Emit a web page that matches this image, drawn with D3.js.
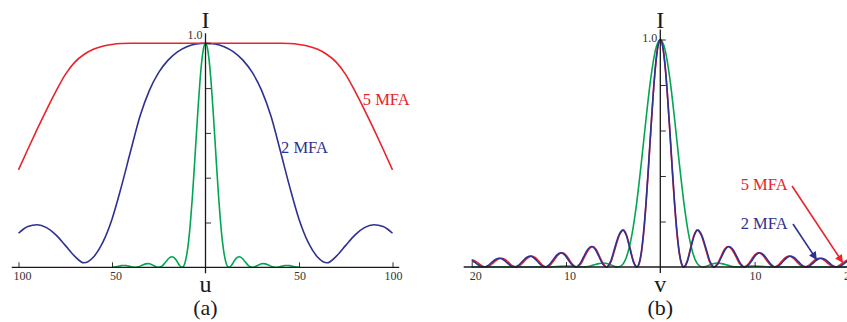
<!DOCTYPE html>
<html>
<head>
<meta charset="utf-8">
<script src="https://cdn.jsdelivr.net/npm/d3@7"></script>
<style>
  body { margin: 0; background: #fff; }
  svg { display: block; font-family: "Liberation Serif", "Times New Roman", serif; }
</style>
</head>
<body>
<svg id="chart" width="847" height="322"></svg>
<script>
// ---- panel (a): axial intensity vs u ----
const uA = [-100,-95,-90,-85,-80,-75,-70,-65,-60,-55,-50,-45,-40,-35,-30,-25,-20,-15,-10,-5,0,
            5,10,15,20,25,30,35,40,45,50,55,60,65,70,75,80,85,90,95,100];
const red5A = [0.435,0.527,0.617,0.703,0.785,0.86,0.915,0.95,0.973,0.987,0.995,0.999,1,1,1,1,1,1,1,1,1,
               1,1,1,1,1,1,1,1,0.999,0.995,0.987,0.973,0.95,0.915,0.86,0.785,0.703,0.617,0.527,0.435];
const blue2A = [0.152,0.182,0.19,0.177,0.145,0.098,0.05,0.02,0.045,0.11,0.215,0.36,0.52,0.675,0.79,0.87,0.925,0.962,0.985,0.997,1,
                0.997,0.985,0.962,0.925,0.87,0.79,0.675,0.52,0.36,0.215,0.11,0.045,0.02,0.05,0.098,0.145,0.177,0.19,0.182,0.152];
const uGreen = [-50,-49,-48,-47,-46,-45,-44,-43,-42,-41,-40,-39,-38,-37,-36,-35,-34,-33,-32,-31,-30,-29,-28,-27,-26,
                -25,-24,-23,-22,-21,-20,-19,-18,-17,-16,-15,-14,-13,-12,-11,-10,-9,-8,-7,-6,-5,-4,-3,-2,-1,0,
                1,2,3,4,5,6,7,8,9,10,11,12,13,14,15,16,17,18,19,20,21,22,23,24,25,
                26,27,28,29,30,31,32,33,34,35,36,37,38,39,40,41,42,43,44,45,46,47,48,49,50];
const greenA = [0,0.0008,0.002,0.0039,0.0058,0.0076,0.0083,0.0083,0.007,0.0052,0.003,0.0011,0.0001,0.0004,0.0021,0.0051,0.0088,0.0125,0.0153,0.0165,0.0156,0.0129,0.0088,0.0044,0.0011,
                0,0.0022,0.0078,0.0165,0.0268,0.0368,0.0443,0.0472,0.0444,0.0358,0.0232,0.01,0.0011,0.0022,0.0193,0.0573,0.1196,0.2067,0.3162,0.4422,0.5764,0.7081,0.8261,0.9194,0.9793,1,
                0.9793,0.9194,0.8261,0.7081,0.5764,0.4422,0.3162,0.2067,0.1196,0.0573,0.0193,0.0022,0.0011,0.01,0.0232,0.0358,0.0444,0.0472,0.0443,0.0368,0.0268,0.0165,0.0078,0.0022,0,
                0.0011,0.0044,0.0088,0.0129,0.0156,0.0165,0.0153,0.0125,0.0088,0.0051,0.0021,0.0004,0.0001,0.0011,0.003,0.0052,0.007,0.0083,0.0083,0.0076,0.0058,0.0039,0.002,0.0008,0];

// ---- panel (b): lateral intensity vs v, [v, I] ----
const blue2B = [[-20,0.0292],[-19.93,0.0277],[-19.53,0.0162],[-19.13,0.0047],[-18.73,0],[-18.31,0.0056],[-17.90,0.0193],[-17.48,0.033],[-17.07,0.0386],
  [-16.67,0.033],[-16.27,0.0193],[-15.87,0.0056],[-15.47,0],[-15.06,0.007],[-14.64,0.0239],[-14.22,0.0407],[-13.81,0.0477],[-13.41,0.0407],[-13.01,0.0239],
  [-12.62,0.007],[-12.22,0],[-11.80,0.0091],[-11.38,0.0312],[-10.96,0.0533],[-10.54,0.0624],[-10.15,0.0533],[-9.76,0.0312],[-9.36,0.0091],[-8.97,0],
  [-8.54,0.0132],[-8.12,0.0451],[-7.70,0.0769],[-7.27,0.0901],[-6.88,0.0769],[-6.50,0.0451],[-6.11,0.0132],[-5.72,0],[-5.28,0.0237],[-4.85,0.0811],
  [-4.41,0.1385],[-3.97,0.1622],[-3.60,0.1385],[-3.23,0.0811],[-2.86,0.0237],[-2.49,0],[-2.25,0.016],[-2,0.0699],[-1.75,0.1636],[-1.5,0.2926],
  [-1.25,0.4462],[-1,0.609],[-0.75,0.7626],[-0.5,0.8886],[-0.25,0.9712],[0,1],[0.25,0.9712],[0.5,0.8886],[0.75,0.7626],[1,0.609],[1.25,0.4462],
  [1.5,0.2926],[1.75,0.1636],[2,0.0699],[2.25,0.016],[2.49,0],[2.86,0.0237],[3.23,0.0811],[3.60,0.1385],[3.97,0.1622],[4.41,0.1385],[4.85,0.0811],
  [5.28,0.0237],[5.72,0],[6.11,0.0132],[6.50,0.0451],[6.88,0.0769],[7.27,0.0901],[7.70,0.0769],[8.12,0.0451],[8.54,0.0132],[8.97,0],[9.36,0.0091],
  [9.76,0.0312],[10.15,0.0533],[10.54,0.0624],[10.96,0.0533],[11.38,0.0312],[11.80,0.0091],[12.22,0],[12.62,0.007],[13.01,0.0239],[13.41,0.0407],
  [13.81,0.0477],[14.22,0.0407],[14.64,0.0239],[15.06,0.007],[15.47,0],[15.87,0.0056],[16.27,0.0193],[16.67,0.033],[17.07,0.0386],[17.48,0.033],
  [17.90,0.0193],[18.31,0.0056],[18.73,0],[19.13,0.0047],[19.53,0.0162],[19.93,0.0277],[20,0.0292]];
const red5B = [[-20,0.0322],[-19.68,0.0277],[-19.29,0.0162],[-18.89,0.0047],[-18.50,0],[-18.09,0.0056],[-17.68,0.0193],[-17.27,0.033],[-16.86,0.0386],
  [-16.47,0.033],[-16.07,0.0193],[-15.68,0.0056],[-15.28,0],[-14.87,0.007],[-14.46,0.0239],[-14.05,0.0407],[-13.64,0.0477],[-13.25,0.0407],[-12.85,0.0239],
  [-12.46,0.007],[-12.07,0],[-11.66,0.0091],[-11.24,0.0312],[-10.83,0.0533],[-10.41,0.0624],[-10.02,0.0533],[-9.64,0.0312],[-9.25,0.0091],[-8.86,0],
  [-8.44,0.0132],[-8.02,0.0451],[-7.60,0.0769],[-7.18,0.0901],[-6.80,0.0769],[-6.42,0.0451],[-6.03,0.0132],[-5.65,0],[-5.22,0.0237],[-4.79,0.0811],
  [-4.35,0.1385],[-3.92,0.1622],[-3.56,0.1385],[-3.19,0.0811],[-2.83,0.0237],[-2.46,0],[-2.25,0.0124],[-2,0.0628],[-1.75,0.1538],[-1.5,0.282],
  [-1.25,0.4364],[-1,0.601],[-0.75,0.7573],[-0.5,0.8859],[-0.25,0.9706],[0,1],[0.25,0.9706],[0.5,0.8859],[0.75,0.7573],[1,0.601],[1.25,0.4364],
  [1.5,0.282],[1.75,0.1538],[2,0.0628],[2.25,0.0124],[2.46,0],[2.83,0.0237],[3.19,0.0811],[3.56,0.1385],[3.92,0.1622],[4.35,0.1385],[4.79,0.0811],
  [5.22,0.0237],[5.65,0],[6.03,0.0132],[6.42,0.0451],[6.80,0.0769],[7.18,0.0901],[7.60,0.0769],[8.02,0.0451],[8.44,0.0132],[8.86,0],[9.25,0.0091],
  [9.64,0.0312],[10.02,0.0533],[10.41,0.0624],[10.83,0.0533],[11.24,0.0312],[11.66,0.0091],[12.07,0],[12.46,0.007],[12.85,0.0239],[13.25,0.0407],
  [13.64,0.0477],[14.05,0.0407],[14.46,0.0239],[14.87,0.007],[15.28,0],[15.68,0.0056],[16.07,0.0193],[16.47,0.033],[16.86,0.0386],[17.27,0.033],
  [17.68,0.0193],[18.09,0.0056],[18.50,0],[18.89,0.0047],[19.29,0.0162],[19.68,0.0277],[20,0.0322]];
const greenB = [[-20,0],[-11.97,0],[-11,0.002],[-9.9,0.0042],[-9,0.0025],[-8.25,0],[-7.5,0.0036],[-7,0.0095],[-6.5,0.0148],[-6.04,0.0175],
  [-5.5,0.0133],[-5,0.0051],[-4.51,0],[-4,0.0111],[-3.5,0.0549],[-3,0.1443],[-2.5,0.2834],[-2,0.462],[-1.5,0.6562],[-1,0.8325],[-0.5,0.9557],[0,1],
  [0.5,0.9557],[1,0.8325],[1.5,0.6562],[2,0.462],[2.5,0.2834],[3,0.1443],[3.5,0.0549],[4,0.0111],[4.51,0],[5,0.0051],[5.5,0.0133],[6.04,0.0175],
  [6.5,0.0148],[7,0.0095],[7.5,0.0036],[8.25,0],[9,0.0025],[9.9,0.0042],[11,0.002],[11.97,0],[20,0]];

// ticks
const uMinor = [-100,-90,-80,-70,-60,-50,-40,-30,-20,-10,10,20,30,40,50,60,70,80,90,100];
const uMajor = [-100,-50,50,100];
const uLabels = ["100","50","50","100"];
const vMinor = [-20,-18,-16,-14,-12,-10,-8,-6,-4,-2,2,4,6,8,10,12,14,16,18,20];
const vMajor = [-20,-10,10,20];
const vLabels = ["20","10","10","20"];
const iMinor = [0.05,0.1,0.15,0.2,0.25,0.3,0.35,0.4,0.45,0.5,0.55,0.6,0.65,0.7,0.75,0.8,0.85,0.9,0.95,1.0];
const iMajor = [0.2,0.4,0.6,0.8,1.0];

const RED = '#e8242a', BLUE = '#2e3192', GREEN = '#00a651', INK = '#1a1a1a';

const svg = d3.select('#chart');
const defs = svg.append('defs');
[['arrRed', RED], ['arrBlue', BLUE]].forEach(([id, c]) => {
  defs.append('marker')
    .attr('id', id)
    .attr('viewBox', '0 0 10 10')
    .attr('refX', 10).attr('refY', 5)
    .attr('markerWidth', 9).attr('markerHeight', 8)
    .attr('markerUnits', 'userSpaceOnUse')
    .attr('orient', 'auto')
    .append('path')
    .attr('d', 'M0,0 L10,5 L0,10 z')
    .attr('fill', c);
});

function drawPanel(p) {
  const x = p.x, y = p.y;
  const g = svg.append('g');
  const line = d3.line().x(d => x(d[0])).y(d => y(d[1])).curve(d3.curveMonotoneX);

  // curves
  p.series.forEach(s => {
    g.append('path')
      .datum(s.data)
      .attr('fill', 'none')
      .attr('stroke', s.color)
      .attr('stroke-width', 1.6)
      .attr('d', line);
  });

  // x axis
  g.append('line')
    .attr('x1', x(p.axisExt[0])).attr('x2', x(p.axisExt[1]))
    .attr('y1', y(0)).attr('y2', y(0))
    .attr('stroke', INK).attr('stroke-width', 1.3);
  const xt = g.append('g').attr('transform', 'translate(0,' + y(0) + ')');
  xt.call(d3.axisTop(x).tickValues(p.xMinor).tickSize(3.5).tickSizeOuter(0).tickFormat(''));
  xt.call(d3.axisTop(x).tickValues(p.xMajor).tickSize(5).tickSizeOuter(0).tickFormat(''));
  xt.selectAll('.domain').remove();
  xt.selectAll('.tick line').attr('stroke', INK).attr('stroke-width', 0.9);

  g.selectAll('.xlab')
    .data(p.xMajor)
    .enter()
    .append('text')
    .attr('x', (d, i) => x(d) + (d < 0 ? 4 : 1))
    .attr('y', y(0) + 13)
    .attr('text-anchor', 'middle')
    .attr('font-size', 12)
    .attr('fill', '#333')
    .text((d, i) => p.xLabels[i]);

  // y axis
  g.append('line')
    .attr('x1', x(0)).attr('x2', x(0))
    .attr('y1', y(1) - 10).attr('y2', y(0) + 6)
    .attr('stroke', INK).attr('stroke-width', 1.3);
  const yt = g.append('g').attr('transform', 'translate(' + x(0) + ',0)');
  yt.call(d3.axisRight(y).tickValues(iMinor).tickSize(3).tickSizeOuter(0).tickFormat(''));
  yt.call(d3.axisRight(y).tickValues(iMajor).tickSize(5.5).tickSizeOuter(0).tickFormat(''));
  yt.selectAll('.domain').remove();
  yt.selectAll('.tick line').attr('stroke', INK).attr('stroke-width', 0.9);

  g.append('text')
    .attr('x', x(0) - 3).attr('y', p.oneLabelY)
    .attr('text-anchor', 'end')
    .attr('font-size', 12)
    .attr('fill', '#333')
    .text('1.0');

  g.append('text')
    .attr('x', x(0)).attr('y', 28)
    .attr('text-anchor', 'middle')
    .attr('font-size', 24)
    .attr('fill', INK)
    .text('I');
  g.append('text')
    .attr('x', x(0)).attr('y', 292)
    .attr('text-anchor', 'middle')
    .attr('font-size', 24)
    .attr('fill', INK)
    .text(p.xName);
  g.append('text')
    .attr('x', x(0)).attr('y', 315)
    .attr('text-anchor', 'middle')
    .attr('font-size', 22)
    .attr('fill', INK)
    .text(p.caption);

  // labels and arrows
  p.notes.forEach(n => {
    g.append('text')
      .attr('x', x(n.at[0])).attr('y', y(n.at[1]))
      .attr('font-size', 16.5)
      .attr('fill', n.color)
      .text(n.text);
    if (n.arrow) {
      g.append('line')
        .attr('x1', x(n.arrow[0][0])).attr('y1', y(n.arrow[0][1]))
        .attr('x2', x(n.arrow[1][0])).attr('y2', y(n.arrow[1][1]))
        .attr('stroke', n.color).attr('stroke-width', 1.6)
        .attr('marker-end', 'url(#' + n.marker + ')');
    }
  });
}

drawPanel({
  x: d3.scaleLinear().domain([-100, 100]).range([18.5, 392.5]),
  y: d3.scaleLinear().domain([0, 1]).range([267.3, 43.3]),
  axisExt: [-103.6, 103.6],
  series: [
    { data: d3.zip(uGreen, greenA), color: GREEN },
    { data: d3.zip(uA, blue2A), color: BLUE },
    { data: d3.zip(uA, red5A), color: RED }
  ],
  xMinor: uMinor, xMajor: uMajor, xLabels: uLabels,
  oneLabelY: 38.5,
  xName: 'u', caption: '(a)',
  notes: [
    { text: '5 MFA', at: [84.1, 0.725], color: RED },
    { text: '2 MFA', at: [40.4, 0.51], color: BLUE }
  ]
});

drawPanel({
  x: d3.scaleLinear().domain([-20, 20]).range([471.7, 848.9]),
  y: d3.scaleLinear().domain([0, 1]).range([267, 39.5]),
  axisExt: [-20.85, 21],
  series: [
    { data: greenB, color: GREEN },
    { data: red5B, color: RED },
    { data: blue2B, color: BLUE }
  ],
  xMinor: vMinor, xMajor: vMajor, xLabels: vLabels,
  oneLabelY: 42,
  xName: 'v', caption: '(b)',
  notes: [
    { text: '5 MFA', at: [8.53, 0.338], color: RED, arrow: [[13.97, 0.356], [19.37, 0.018]], marker: 'arrRed' },
    { text: '2 MFA', at: [8.53, 0.169], color: BLUE, arrow: [[14.07, 0.189], [16.6, 0.031]], marker: 'arrBlue' }
  ]
});
</script>
</body>
</html>
